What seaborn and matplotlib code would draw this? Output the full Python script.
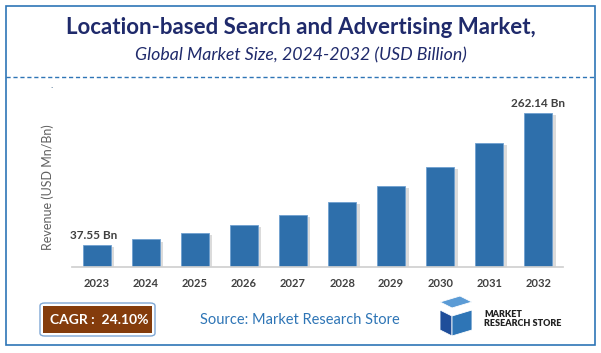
import matplotlib
matplotlib.use("Agg")
import matplotlib.pyplot as plt
import matplotlib.patheffects as pe
from matplotlib.patches import Rectangle, FancyBboxPatch, Polygon
import seaborn as sns
import pandas as pd

# data
years = ["2023", "2024", "2025", "2026", "2027", "2028", "2029", "2030", "2031", "2032"]
revenue = [37.55, 46.9, 57.8, 71.8, 89.1, 110.5, 137.2, 170.2, 211.2, 262.14]
label_first = "37.55 Bn"
label_last = "262.14 Bn"

W, H = 601, 353
def fx(x):
    return x / W
def fy(y):
    return 1 - y / H

sns.set_theme(style="white")
plt.rcParams['font.family'] = ['Lato', 'DejaVu Sans']

fig = plt.figure(figsize=(6.01, 3.53), dpi=100)
fig.patch.set_facecolor("white")

# outer frame and dashed divider
fig.patches.append(Rectangle((fx(6), fy(345)), fx(589), 339 / H, transform=fig.transFigure,
                             fill=False, edgecolor="#2E75B6", lw=1.2))
fig.add_artist(plt.Line2D([fx(6), fx(595)], [fy(77), fy(77)], transform=fig.transFigure,
                          color="#2E75B6", lw=1, ls=(0, (3, 2))))

# titles
fig.text(0.5, fy(28), "Location-based Search and Advertising Market,", ha="center", va="center",
         fontsize=16, fontweight="bold", color="#1F2A6B")
fig.text(0.5, fy(55), "Global Market Size, 2024-2032 (USD Billion)", ha="center", va="center",
         fontsize=12.8, style="italic", color="#1F2A6B")
fig.text(fx(52), fy(85), ".", ha="center", va="center", fontsize=7, color="#1F4E79")

# bar chart
ax = fig.add_axes([fx(72), fy(267), fx(491), 177 / H])
df = pd.DataFrame({"Year": years, "Revenue": revenue})
sns.barplot(data=df, x="Year", y="Revenue", color="#2E6FAB", saturation=1, width=0.57, ax=ax)
for bar in ax.patches:
    bar.set_edgecolor("#6FA0D0")
    bar.set_linewidth(0.6)
    bar.set_path_effects([pe.SimplePatchShadow(offset=(2.5, -1.5), shadow_rgbFace="#B0B0B0", alpha=0.45),
                          pe.Normal()])
ax.set_ylim(0, 301)
ax.set_xlim(-0.5, 9.5)
ax.set_yticks([])
ax.set_xlabel("")
ax.set_ylabel("")
for s in ["top", "right", "left"]:
    ax.spines[s].set_visible(False)
ax.spines["bottom"].set_color("#D0D0D0")
ax.tick_params(axis="x", length=0, pad=8)
for t in ax.get_xticklabels():
    t.set_fontsize(8)
    t.set_fontweight("bold")
    t.set_color("#404040")

ax.text(0 - 0.05, revenue[0] + 6, label_first, ha="center", va="bottom", fontsize=8.5,
        fontweight="bold", color="#404040")
ax.text(9, revenue[-1] + 6, label_last, ha="center", va="bottom", fontsize=8.5,
        fontweight="bold", color="#404040")

fig.text(fx(48), fy(187), "Revenue (USD Mn/Bn)", rotation=90, ha="center", va="center",
         fontsize=9, color="#606060")

# CAGR box
fig.patches.append(FancyBboxPatch((fx(40), fy(336)), fx(115), 33 / H, transform=fig.transFigure,
                                  boxstyle="round,pad=0,rounding_size=0.008",
                                  facecolor="white", edgecolor="#7FA7D4", lw=1))
fig.patches.append(Rectangle((fx(43), fy(333)), fx(109), 27 / H, transform=fig.transFigure,
                             facecolor="#843C0C", edgecolor="none"))
fig.text(fx(99), fy(320), "CAGR :  24.10%", ha="center", va="center", fontsize=10,
         fontweight="bold", color="white")

fig.text(fx(200), fy(320), "Source: Market Research Store", ha="left", va="center",
         fontsize=10.5, color="#2E75B6")

# simple logo
logo = [
    [(440, 302), (460, 296), (472, 302), (452, 308)],
    [(440, 310), (452, 316), (452, 336), (440, 330)],
    [(452, 316), (472, 310), (472, 330), (452, 336)],
]
cols = ["#5B9BD5", "#1F4E9A", "#2E75B6"]
for pts, c in zip(logo, cols):
    fig.patches.append(Polygon([(fx(x), fy(y)) for x, y in pts], closed=True,
                               transform=fig.transFigure, facecolor=c, edgecolor="white", lw=0.6))
fig.text(fx(484), fy(319), "MARKET\nRESEARCH STORE", ha="left", va="center", fontsize=6.5,
         fontweight="heavy", color="#222222", linespacing=0.95)

fig.savefig("out.png", dpi=100)
